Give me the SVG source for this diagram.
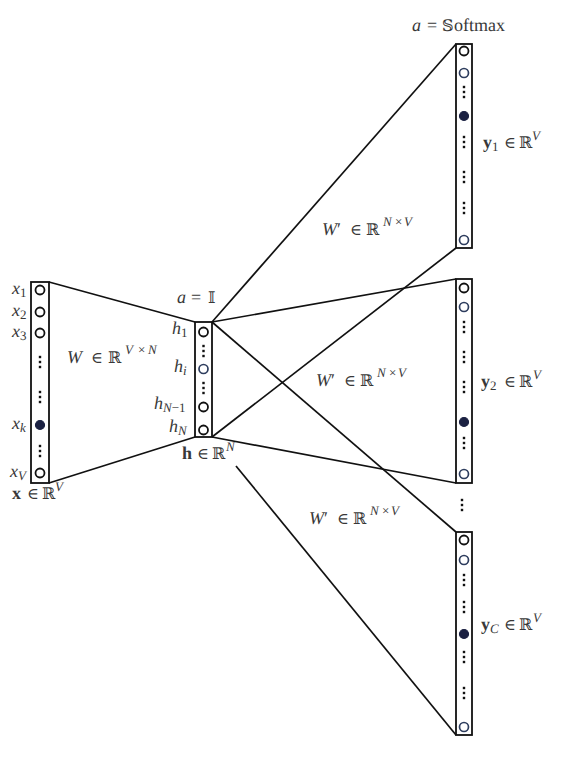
<svg xmlns="http://www.w3.org/2000/svg" xmlns:xlink="http://www.w3.org/1999/xlink" width="564" height="765" viewBox="0 0 564 765">
<style>
.layer{fill:#fff;stroke:#111;stroke-width:1.8}
.c{fill:#fff;stroke:#111;stroke-width:1.8}
.cb{fill:#fff;stroke:#2e3d5e;stroke-width:1.7}
.cf{fill:#1b2142;stroke:#1b2142;stroke-width:1.2}
.ln{stroke:#111;stroke-width:1.7;fill:none}
text{font-family:"Liberation Serif","DejaVu Serif",serif;fill:#383838;font-size:18px;text-rendering:geometricPrecision}
.i{font-style:italic}
.b{font-weight:bold}
.s{font-size:13px}
.m{font-family:"DejaVu Serif","Liberation Serif",serif;font-size:16px}
</style>
<defs>
<g id="vd"><rect x="-1.2" y="-6.2" width="2.4" height="2.4" fill="#111"/><rect x="-1.2" y="-1.2" width="2.4" height="2.4" fill="#111"/><rect x="-1.2" y="3.8" width="2.4" height="2.4" fill="#111"/></g>
</defs>
<rect width="564" height="765" fill="#fff"/>
<g id="connectors">
<line class="ln" x1="49" y1="282" x2="195" y2="322"/>
<line class="ln" x1="49" y1="483" x2="195" y2="437"/>
<line class="ln" x1="212" y1="322" x2="456" y2="44"/>
<line class="ln" x1="212" y1="437" x2="456" y2="248"/>
<line class="ln" x1="212" y1="322" x2="456" y2="279"/>
<line class="ln" x1="212" y1="437" x2="456" y2="483"/>
<line class="ln" x1="212" y1="322" x2="456" y2="532"/>
<line class="ln" x1="236" y1="466" x2="456" y2="735"/>
</g>
<g id="input">
<rect class="layer" x="31" y="282" width="18" height="201"/>
<circle class="c" cx="40" cy="290" r="4.5"/>
<circle class="c" cx="40" cy="312" r="4.5"/>
<circle class="c" cx="40" cy="333" r="4.5"/>
<use xlink:href="#vd" x="40" y="362"/>
<use xlink:href="#vd" x="40" y="397"/>
<circle class="cf" cx="40" cy="425" r="4.5"/>
<use xlink:href="#vd" x="40" y="451"/>
<circle class="c" cx="40" cy="473" r="4.5"/>
<text x="12" y="294"><tspan class="i">x</tspan><tspan class="s" dy="3">1</tspan></text>
<text x="12" y="316"><tspan class="i">x</tspan><tspan class="s" dy="3">2</tspan></text>
<text x="12" y="337"><tspan class="i">x</tspan><tspan class="s" dy="3">3</tspan></text>
<text x="12" y="429"><tspan class="i">x</tspan><tspan class="s i" dy="3">k</tspan></text>
<text x="10" y="477"><tspan class="i">x</tspan><tspan class="s i" dy="3">V</tspan></text>
<text y="499"><tspan class="b" x="12">x</tspan><tspan class="m" x="27">∈</tspan><tspan class="m" x="42">ℝ</tspan><tspan class="s i" x="55" dy="-8">V</tspan></text>
</g>
<g id="hidden">
<rect class="layer" x="195" y="322" width="17" height="115"/>
<circle class="c" cx="203.5" cy="332" r="4.5"/>
<use xlink:href="#vd" x="203.5" y="351"/>
<circle class="cb" cx="203.5" cy="369" r="4.5"/>
<use xlink:href="#vd" x="203.5" y="388"/>
<circle class="c" cx="203.5" cy="407" r="4.5"/>
<circle class="c" cx="203.5" cy="430" r="4.5"/>
<text x="172" y="334"><tspan class="i">h</tspan><tspan class="s" dy="3">1</tspan></text>
<text x="174" y="372"><tspan class="i">h</tspan><tspan class="s i" dy="3">i</tspan></text>
<text x="154" y="409"><tspan class="i">h</tspan><tspan class="s" dy="3"><tspan class="i">N</tspan>−1</tspan></text>
<text x="169" y="432"><tspan class="i">h</tspan><tspan class="s i" dy="3">N</tspan></text>
<text y="303"><tspan class="i" x="177">a</tspan><tspan x="191">=</tspan><tspan class="m" x="208">𝕀</tspan></text>
<text y="459"><tspan class="b" x="182">h</tspan><tspan class="m" x="197">∈</tspan><tspan class="m" x="212">ℝ</tspan><tspan class="s i" x="226" dy="-8">N</tspan></text>
</g>
<g id="output1">
<rect class="layer" x="456" y="44" width="16" height="204"/>
<circle class="c" cx="464" cy="51" r="4.5"/>
<circle class="cb" cx="464" cy="73" r="4.5"/>
<use xlink:href="#vd" x="464" y="92"/>
<circle class="cf" cx="464" cy="116" r="4.5"/>
<use xlink:href="#vd" x="464" y="142"/>
<use xlink:href="#vd" x="464" y="177"/>
<use xlink:href="#vd" x="464" y="208"/>
<circle class="cb" cx="464" cy="240" r="4.5"/>
<text y="148"><tspan class="b" x="483">y</tspan><tspan class="s" dy="3">1</tspan><tspan class="m" x="504" dy="-3">∈</tspan><tspan class="m" x="519">ℝ</tspan><tspan class="s i" x="532" dy="-8">V</tspan></text>
<text y="31"><tspan class="i" x="412">a</tspan><tspan x="427">=</tspan><tspan class="m" x="442">𝕊</tspan><tspan x="454">oftmax</tspan></text>
</g>
<g id="output2">
<rect class="layer" x="456" y="279" width="16" height="204"/>
<circle class="c" cx="464" cy="288" r="4.5"/>
<circle class="cb" cx="464" cy="307" r="4.5"/>
<use xlink:href="#vd" x="464" y="327"/>
<use xlink:href="#vd" x="464" y="357"/>
<use xlink:href="#vd" x="464" y="387"/>
<circle class="cf" cx="464" cy="422" r="4.5"/>
<use xlink:href="#vd" x="464" y="443"/>
<circle class="cb" cx="464" cy="474" r="4.5"/>
<text y="387"><tspan class="b" x="481">y</tspan><tspan class="s" dy="3">2</tspan><tspan class="m" x="504" dy="-3">∈</tspan><tspan class="m" x="519">ℝ</tspan><tspan class="s i" x="533" dy="-8">V</tspan></text>
</g>
<g id="ellipsis">
<use xlink:href="#vd" x="462" y="505"/>
</g>
<g id="outputC">
<rect class="layer" x="456" y="532" width="16" height="203"/>
<circle class="c" cx="464" cy="540" r="4.5"/>
<circle class="cb" cx="464" cy="560" r="4.5"/>
<use xlink:href="#vd" x="464" y="580"/>
<use xlink:href="#vd" x="464" y="607"/>
<circle class="cf" cx="464" cy="634" r="4.5"/>
<use xlink:href="#vd" x="464" y="657"/>
<use xlink:href="#vd" x="464" y="693"/>
<circle class="cb" cx="464" cy="727" r="4.5"/>
<text y="630"><tspan class="b" x="481">y</tspan><tspan class="s i" dy="3">C</tspan><tspan class="m" x="504" dy="-3">∈</tspan><tspan class="m" x="519">ℝ</tspan><tspan class="s i" x="533" dy="-8">V</tspan></text>
</g>
<g id="weights">
<text y="363"><tspan class="i" x="67">W</tspan><tspan class="m" x="91">∈</tspan><tspan class="m" x="108">ℝ</tspan><tspan class="s i" x="125" dy="-9">V</tspan><tspan class="s" x="138">×</tspan><tspan class="s i" x="148">N</tspan></text>
<text y="235"><tspan class="i" x="322">W</tspan><tspan x="337">′</tspan><tspan class="m" x="350">∈</tspan><tspan class="m" x="366">ℝ</tspan><tspan class="s i" x="383" dy="-9">N</tspan><tspan class="s" x="395">×</tspan><tspan class="s i" x="404">V</tspan></text>
<text y="386"><tspan class="i" x="316">W</tspan><tspan x="331">′</tspan><tspan class="m" x="344">∈</tspan><tspan class="m" x="360">ℝ</tspan><tspan class="s i" x="377" dy="-9">N</tspan><tspan class="s" x="389">×</tspan><tspan class="s i" x="398">V</tspan></text>
<text y="524"><tspan class="i" x="309">W</tspan><tspan x="324">′</tspan><tspan class="m" x="337">∈</tspan><tspan class="m" x="353">ℝ</tspan><tspan class="s i" x="370" dy="-9">N</tspan><tspan class="s" x="382">×</tspan><tspan class="s i" x="391">V</tspan></text>
</g>
</svg>
